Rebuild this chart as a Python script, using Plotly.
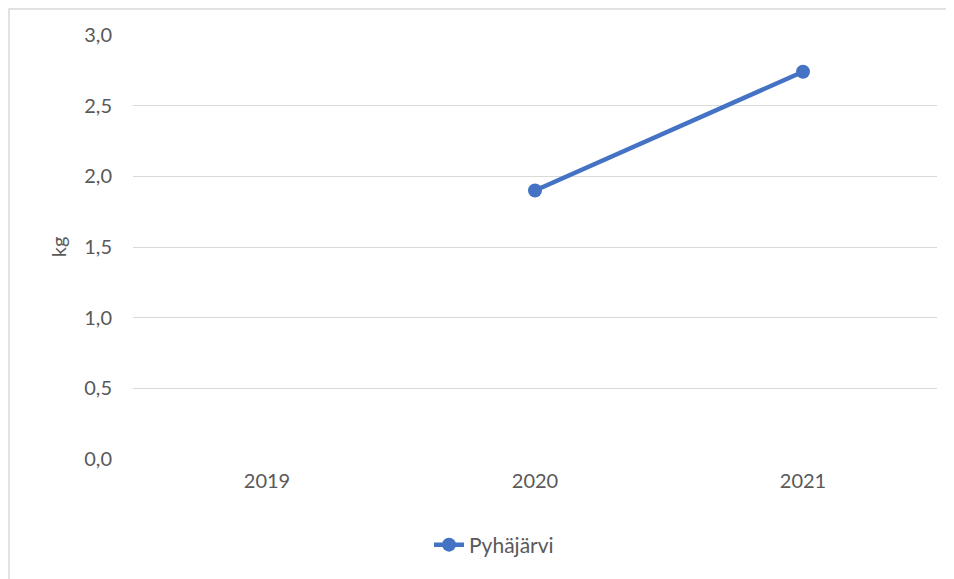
import plotly.graph_objects as go

years = ["2019", "2020", "2021"]
pyhajarvi = [None, 1.9, 2.74]
y_ticks = [0, 0.5, 1.0, 1.5, 2.0, 2.5, 3.0]

OFF = 8  # page body margin
W, H = 954 - OFF, 579 - OFF
L, T = 133 - OFF, 35 - OFF
R = W - (937 - OFF)
B = H - (459 - OFF)
pw, ph = W - L - R, H - T - B

def px_x(x):
    return (x - OFF - L) / pw

def px_y(y):
    return (H - B - (y - OFF)) / ph

fig = go.Figure()
fig.add_trace(go.Scatter(
    x=years, y=pyhajarvi, name="Pyhäjärvi", mode="lines+markers",
    line=dict(color="#4472C4", width=4.5),
    marker=dict(color="#4472C4", size=14),
))

font = dict(family="Lato, Carlito, Calibri, sans-serif", size=20, color="#595959")

fig.update_layout(
    width=W, height=H,
    margin=dict(l=L, r=R, t=T, b=B),
    paper_bgcolor="white", plot_bgcolor="white",
    separators=", ",
    font=font,
    showlegend=True,
    legend=dict(orientation="h", x=px_x(494), xanchor="center",
                y=px_y(545), yanchor="middle", font=dict(font, size=21),
                bgcolor="rgba(0,0,0,0)"),
    xaxis=dict(type="category", range=[-0.5, 2.5], showgrid=False,
               showline=False, zeroline=False, ticks="", tickfont=font,
               ticklabelstandoff=8),
    yaxis=dict(range=[0, 3.0], tickvals=y_ticks, tickformat=".1f",
               showgrid=True, gridcolor="#D9D9D9", gridwidth=1.3,
               zeroline=False, showline=False, ticks="", tickfont=font,
               ticklabelstandoff=20,
               title=dict(text="kg", font=font, standoff=12)),
    shapes=[dict(type="rect", xref="paper", yref="paper",
                 x0=px_x(OFF + 1), x1=px_x(1000), y0=px_y(700), y1=px_y(OFF + 1),
                 line=dict(color="#D9D9D9", width=1.5), layer="below")],
)

fig.write_html("out.html")
